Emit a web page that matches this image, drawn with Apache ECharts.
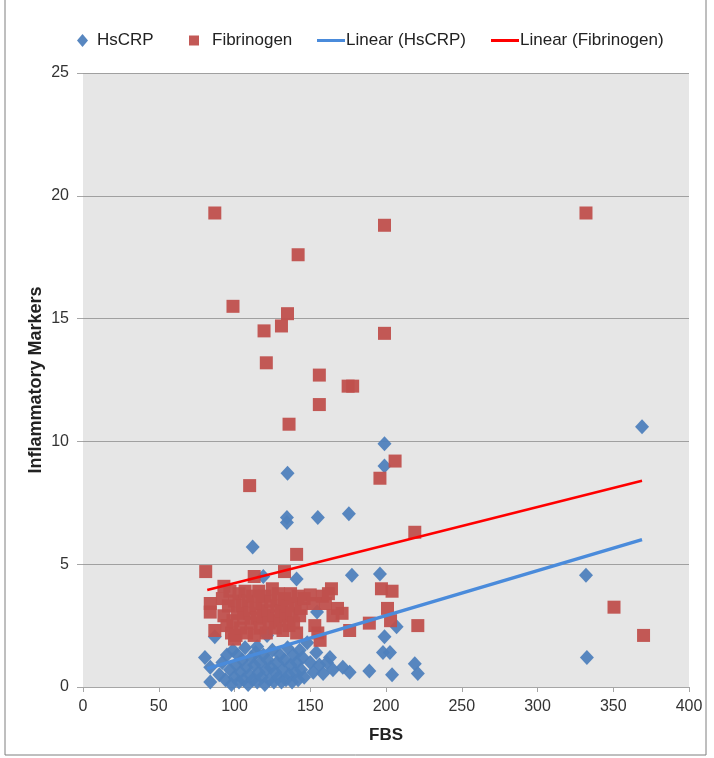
<!DOCTYPE html>
<html>
<head>
<meta charset="utf-8">
<script src="https://cdn.jsdelivr.net/npm/echarts@6/dist/echarts.min.js"></script>
<style>
html,body{margin:0;padding:0;background:#fff;}
#c{width:714px;height:758px;}
</style>
</head>
<body>
<div id="c"></div>
<script>
// ---- data ----
var xTicks = [0, 50, 100, 150, 200, 250, 300, 350, 400];
var yTicks = [0, 5, 10, 15, 20, 25];
var seriesNames = ['HsCRP', 'Fibrinogen', 'Linear (HsCRP)', 'Linear (Fibrinogen)'];

var hscrp = [
  [80.5,1.2],[84,0.8],[84,0.2],[87,2.05],[90,0.5],[92,1.0],[94,0.3],[95,1.3],[97,0.7],[98,0.1],
  [99,1.5],[100,0.4],[101,0.9],[102,1.3],[103,0.2],[104,0.6],[105,1.1],[106,0.3],[107,1.6],[108,0.8],
  [109,0.1],[110,0.5],[111,1.2],[112,0.3],[113,0.9],[114,1.4],[115,0.2],[115,1.65],[116,0.6],[117,1.0],
  [118,0.4],[119,1.3],[120,0.1],[121,0.7],[121.5,2.1],[122,1.1],[123,0.3],[124,0.8],[125,1.5],[126,0.2],
  [127,0.6],[128,1.0],[129,0.4],[130,1.3],[131,0.2],[132,0.7],[133,1.1],[134,0.3],[135,1.6],[136,0.5],
  [137,0.9],[138,0.2],[139,1.3],[140,0.6],[141,1.0],[142,0.3],[143,1.5],[144,0.7],[145,1.2],[146,0.4],
  [148,1.8],[150,1.0],[152,0.6],[154,1.4],[156,0.9],[158.5,0.55],[161,1.0],[163,1.2],[165,0.7],[171.5,0.8],
  [176,0.6],[189,0.65],[204,0.5],[219,0.95],[221,0.55],[198,1.4],[202.6,1.4],[199,2.05],[207,2.45],[154.5,3.05],
  [119,4.5],[141,4.4],[177.5,4.55],[196,4.6],[112,5.7],[134.6,6.7],[134.6,6.9],[155,6.9],[175.5,7.05],[135,8.7],
  [199,9.0],[199,9.9],[369,10.6],[332,4.55],[332.6,1.2]
];

var fibrinogen = [
  [87,19.3],[332,19.3],[199,18.8],[142,17.6],[99,15.5],[135,15.2],[131,14.7],[119.5,14.5],[199,14.4],[121,13.2],
  [156,12.7],[175,12.25],[178,12.25],[156,11.5],[136,10.7],[206,9.2],[196,8.5],[110,8.2],[219,6.3],[141,5.4],
  [81,4.7],[350.5,3.25],[370,2.1],[221,2.5],[189,2.6],[133,4.7],[113,4.5],[164,4.0],[197,4.0],[204,3.9],
  [201,3.2],[203,2.7],[84,3.4],[84,3.05],[87,2.3],[93,4.1],[98,2.2],[100,1.95],[155,2.2],[156.5,1.9],
  [176,2.3],[171,3.0],[168,3.2],[160,3.4],[150,3.75],
  [92,3.6],[93,2.9],[95,2.5],[96,3.3],[97,3.9],[99,2.7],[100,3.5],[101,2.1],[102,3.0],[103,3.8],
  [104,2.4],[105,3.3],[106,2.8],[107,3.9],[108,2.2],[109,3.5],[110,3.0],[111,2.6],[112,3.7],[113,2.1],
  [114,3.2],[115,2.8],[116,3.9],[117,2.4],[118,3.4],[119,2.9],[120,3.7],[121,2.2],[122,3.1],[123,2.6],
  [124,3.5],[125,4.0],[126,2.9],[127,2.4],[128,3.3],[129,3.8],[130,2.7],[131,3.1],[132,2.3],[133,3.6],
  [134,2.9],[135,3.3],[136,2.5],[137,3.8],[138,3.0],[139,2.6],[140,3.4],[141,2.2],[142,3.7],[143,2.9],
  [144,3.2],[146,3.6],[152,3.4],[153,2.5],[158,3.7],[162,3.8],[165,2.9]
];

// trend line endpoints
var trendHsCRP = [[82,0.75],[369,6.0]];
var trendFibrinogen = [[82,3.95],[369,8.4]];

// ---- chart ----
var chart = echarts.init(document.getElementById('c'), null, {renderer:'canvas'});
var FONT = '"Liberation Sans", Arial, sans-serif';
function lt(pad){ return {fontFamily: FONT, fontSize: 17, color: '#222', padding: [0,0,0,pad]}; }

var option = {
  backgroundColor: '#fff',
  animation: false,
  grid: {left: 83, right: 25, top: 73, bottom: 71, show: true, backgroundColor: '#E6E6E6', borderWidth: 0},
  legend: [
    {data:[{name:seriesNames[0], icon:'diamond'}], left: 77, top: 32, padding: 0, itemWidth: 11, itemHeight: 13, textStyle: lt(4)},
    {data:[{name:seriesNames[1], icon:'rect'}], left: 189, top: 32, padding: 0, itemWidth: 10, itemHeight: 10, textStyle: lt(8)},
    {data:[{name:seriesNames[2], icon:'rect'}], left: 317, top: 32, padding: 0, itemWidth: 28, itemHeight: 3, textStyle: lt(-4)},
    {data:[{name:seriesNames[3], icon:'rect'}], left: 491, top: 32, padding: 0, itemWidth: 28, itemHeight: 3, textStyle: lt(-4)}
  ],
  xAxis: {
    type: 'value', min: xTicks[0], max: xTicks[xTicks.length-1], interval: xTicks[1]-xTicks[0],
    name: 'FBS', nameLocation: 'middle', nameGap: 40, nameMoveOverlap: false,
    nameTextStyle: {fontFamily: FONT, fontSize: 17, fontWeight: 'bold', color: '#222'},
    axisLine: {show: true, lineStyle: {color: '#a6a6a6', width: 1}},
    axisTick: {show: true, length: 5, lineStyle: {color: '#a6a6a6'}},
    axisLabel: {fontFamily: FONT, fontSize: 16, color: '#333', margin: 12},
    splitLine: {show: false}
  },
  yAxis: {
    type: 'value', min: yTicks[0], max: yTicks[yTicks.length-1], interval: yTicks[1]-yTicks[0],
    name: 'Inflammatory Markers', nameLocation: 'middle', nameGap: 38, nameMoveOverlap: false,
    nameTextStyle: {fontFamily: FONT, fontSize: 18, fontWeight: 'bold', color: '#222'},
    axisLine: {show: false},
    axisTick: {show: true, length: 6, lineStyle: {color: '#a6a6a6'}},
    axisLabel: {fontFamily: FONT, fontSize: 16, color: '#333', margin: 14},
    splitLine: {show: true, lineStyle: {color: '#a0a0a0', width: 1}}
  },
  series: [
    {name: seriesNames[0], type: 'scatter', data: hscrp, symbol: 'diamond', symbolSize: [14,15],
     itemStyle: {color: '#4F81BD', opacity: 0.95}, z: 2},
    {name: seriesNames[1], type: 'scatter', data: fibrinogen, symbol: 'rect', symbolSize: 13,
     itemStyle: {color: '#C0504D', opacity: 0.95}, z: 3},
    {name: seriesNames[2], type: 'line', data: trendHsCRP, symbol: 'none',
     lineStyle: {color: '#4A8BDB', width: 3.5}, itemStyle: {color: '#4A8BDB'}, z: 4},
    {name: seriesNames[3], type: 'line', data: trendFibrinogen, symbol: 'none',
     lineStyle: {color: '#FF0000', width: 2.5}, itemStyle: {color: '#FF0000'}, z: 5}
  ],
  graphic: [
    {type: 'polyline', shape: {points: [[5,-2],[5,755],[706,755],[706,-2]]},
     style: {stroke: '#7f7f7f', lineWidth: 1, fill: null}, silent: true}
  ]
};
chart.setOption(option);
</script>
</body>
</html>
